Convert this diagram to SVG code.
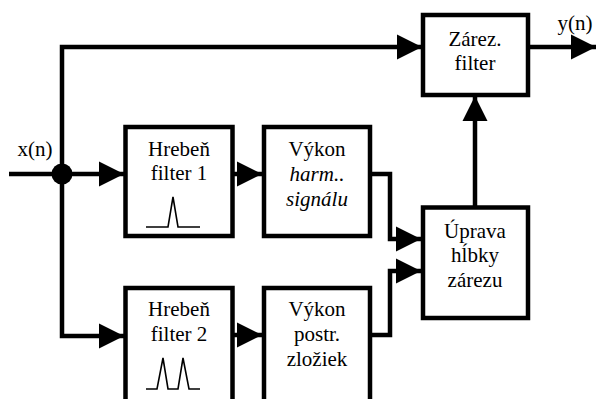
<svg xmlns="http://www.w3.org/2000/svg" width="596" height="399" viewBox="0 0 596 399" font-family="'Liberation Serif', 'Times New Roman', Times, serif">
<defs>
<marker id="arr" markerUnits="userSpaceOnUse" markerWidth="25" markerHeight="25" refX="25" refY="12.5" orient="auto" overflow="visible">
<path d="M0,0 L25,12.5 L0,25 Z" fill="#000"/>
</marker>
<style>
.box{fill:#fff;stroke:#000;stroke-width:4.5}
.w{fill:none;stroke:#000;stroke-width:4.5;stroke-linejoin:miter}
.a{marker-end:url(#arr)}
.t{font-family:'Liberation Serif','Times New Roman',Times,serif;font-size:21px;fill:#000;text-anchor:middle}
.i{font-style:italic}
.p{fill:none;stroke:#000;stroke-width:1.6}
</style>
</defs>
<rect width="596" height="399" fill="#fff"/>
<g id="connectors">
<path class="w" d="M9,174 H62"/>
<path class="w a" d="M62,174 H124"/>
<path class="w a" d="M62,174 V47 H422"/>
<path class="w a" d="M62,174 V336 H124"/>
<path class="w a" d="M233,174 H262"/>
<path class="w a" d="M233,335 H262"/>
<path class="w a" d="M370,174 H390 V239 H421"/>
<path class="w a" d="M370,335 H390 V271 H421"/>
<path class="w a" d="M475,207 V96"/>
<path class="w a" d="M528,47 H596"/>
<circle cx="62" cy="174" r="10.5" fill="#000"/>
</g>
<g id="label-x">
<text class="t" x="35" y="156">x(n)</text>
</g>
<g id="label-y">
<text class="t" x="575" y="30">y(n)</text>
</g>
<g id="hreben1">
<rect class="box" x="125.5" y="127" width="107" height="109"/>
<text class="t" x="179" y="156">Hrebeň</text>
<text class="t" x="179" y="180">filter 1</text>
<path class="p" d="M146,227 H168 L173,197 L178,227 H200"/>
</g>
<g id="vykon1">
<rect class="box" x="264" y="127" width="106" height="109"/>
<text class="t" x="317" y="156">Výkon</text>
<text class="t i" x="317" y="181">harm..</text>
<text class="t i" x="317" y="206">signálu</text>
</g>
<g id="hreben2">
<rect class="box" x="125.5" y="288" width="107" height="116"/>
<text class="t" x="179" y="316">Hrebeň</text>
<text class="t" x="179" y="341">filter 2</text>
<path class="p" d="M146,389 H157 L163,358 L168,389 H178 L183,358 L189,389 H200"/>
</g>
<g id="vykon2">
<rect class="box" x="264" y="288" width="106" height="116"/>
<text class="t" x="317" y="316">Výkon</text>
<text class="t" x="317" y="341">postr.</text>
<text class="t" x="317" y="366">zložiek</text>
</g>
<g id="zarez">
<rect class="box" x="423" y="15" width="105" height="80"/>
<text class="t" x="475" y="46">Zárez.</text>
<text class="t" x="475" y="70">filter</text>
</g>
<g id="uprava">
<rect class="box" x="423" y="207.5" width="105" height="110.5"/>
<text class="t" x="475" y="238">Úprava</text>
<text class="t" x="475" y="262">hĺbky</text>
<text class="t" x="475" y="287">zárezu</text>
</g>
</svg>
